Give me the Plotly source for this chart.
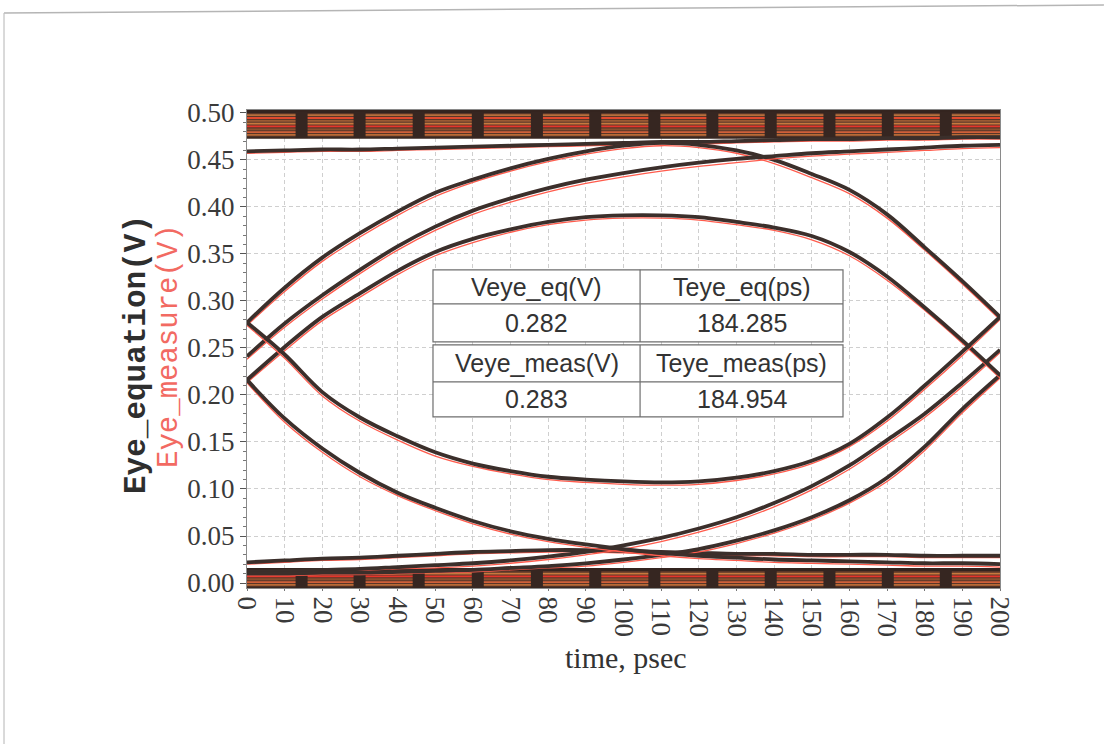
import plotly.graph_objects as go

# ---- sample times (ps) ----
time_ps = [0, 10, 20, 30, 40, 50, 60, 70, 80, 90, 100,
           110, 120, 130, 140, 150, 160, 170, 180, 190, 200]

# ---- eye traces: equation model (V) ----
eq_outer_upper = [0.277, 0.314, 0.346, 0.372, 0.395, 0.415, 0.429, 0.441, 0.451, 0.459, 0.465,
                  0.468, 0.466, 0.460, 0.450, 0.435, 0.418, 0.392, 0.357, 0.321, 0.283]
eq_inner_upper = [0.216, 0.251, 0.283, 0.308, 0.332, 0.352, 0.366, 0.376, 0.384, 0.389, 0.391,
                  0.391, 0.389, 0.384, 0.378, 0.369, 0.352, 0.326, 0.293, 0.258, 0.221]
eq_rise_high = [0.241, 0.276, 0.306, 0.333, 0.358, 0.379, 0.396, 0.409, 0.420, 0.429, 0.436,
                0.442, 0.447, 0.451, 0.454, 0.457, 0.459, 0.461, 0.463, 0.465, 0.466]
eq_flat_high = [0.459, 0.460, 0.461, 0.461, 0.462, 0.463, 0.464, 0.465, 0.466, 0.467, 0.468,
                0.469, 0.469, 0.470, 0.471, 0.472, 0.472, 0.473, 0.473, 0.474, 0.474]
eq_inner_lower = [0.277, 0.243, 0.203, 0.176, 0.156, 0.139, 0.127, 0.119, 0.113, 0.110, 0.108,
                  0.107, 0.108, 0.112, 0.119, 0.130, 0.148, 0.176, 0.210, 0.246, 0.283]
eq_outer_lower = [0.216, 0.175, 0.143, 0.117, 0.096, 0.080, 0.066, 0.055, 0.047, 0.041, 0.036,
                  0.032, 0.029, 0.027, 0.025, 0.024, 0.023, 0.022, 0.021, 0.021, 0.020]
eq_flat_low = [0.022, 0.024, 0.026, 0.027, 0.029, 0.031, 0.033, 0.034, 0.035, 0.035, 0.034,
               0.033, 0.032, 0.031, 0.031, 0.030, 0.030, 0.030, 0.029, 0.029, 0.029]
eq_rise_mid = [0.012, 0.013, 0.014, 0.015, 0.017, 0.019, 0.021, 0.024, 0.028, 0.033, 0.040,
               0.048, 0.058, 0.070, 0.085, 0.103, 0.125, 0.152, 0.180, 0.213, 0.248]
eq_rise_low = [0.010, 0.010, 0.011, 0.011, 0.012, 0.013, 0.014, 0.016, 0.018, 0.021, 0.025,
               0.030, 0.036, 0.045, 0.056, 0.070, 0.088, 0.112, 0.145, 0.185, 0.221]

# ---- eye traces: measured waveform (V) ----
meas_outer_upper = [0.274, 0.310, 0.342, 0.368, 0.391, 0.411, 0.426, 0.438, 0.448, 0.456, 0.462,
                    0.465, 0.463, 0.457, 0.446, 0.431, 0.414, 0.388, 0.354, 0.318, 0.280]
meas_inner_upper = [0.213, 0.247, 0.279, 0.304, 0.328, 0.348, 0.362, 0.373, 0.381, 0.386, 0.388,
                    0.388, 0.386, 0.381, 0.375, 0.365, 0.348, 0.322, 0.290, 0.255, 0.218]
meas_rise_high = [0.238, 0.272, 0.302, 0.329, 0.354, 0.375, 0.392, 0.405, 0.416, 0.425, 0.432,
                  0.438, 0.443, 0.447, 0.451, 0.454, 0.456, 0.458, 0.460, 0.462, 0.463]
meas_flat_high = [0.457, 0.458, 0.459, 0.459, 0.460, 0.461, 0.462, 0.463, 0.464, 0.465, 0.466,
                  0.467, 0.467, 0.468, 0.469, 0.470, 0.470, 0.471, 0.471, 0.472, 0.472]
meas_inner_lower = [0.274, 0.239, 0.199, 0.172, 0.152, 0.135, 0.124, 0.116, 0.110, 0.107, 0.105,
                    0.104, 0.105, 0.109, 0.116, 0.127, 0.145, 0.172, 0.206, 0.242, 0.280]
meas_outer_lower = [0.213, 0.171, 0.139, 0.113, 0.093, 0.077, 0.063, 0.052, 0.044, 0.038, 0.033,
                    0.029, 0.026, 0.024, 0.022, 0.021, 0.020, 0.019, 0.018, 0.018, 0.017]
meas_flat_low = [0.020, 0.022, 0.024, 0.025, 0.027, 0.029, 0.031, 0.032, 0.033, 0.033, 0.032,
                 0.031, 0.030, 0.029, 0.029, 0.028, 0.028, 0.028, 0.027, 0.027, 0.027]
meas_rise_mid = [0.010, 0.011, 0.012, 0.013, 0.015, 0.016, 0.018, 0.021, 0.025, 0.030, 0.036,
                 0.044, 0.054, 0.066, 0.081, 0.099, 0.121, 0.148, 0.176, 0.209, 0.245]
meas_rise_low = [0.008, 0.008, 0.009, 0.009, 0.010, 0.011, 0.012, 0.014, 0.016, 0.018, 0.022,
                 0.027, 0.033, 0.042, 0.053, 0.067, 0.085, 0.108, 0.141, 0.181, 0.218]

# ---- steady-state "1" and "0" bundles (V) ----
band_span = [0, 200]
high_band_edges = [0.4735, 0.5015]
low_band_edges = [-0.005, 0.0145]
high_band_levels = [0.4765, 0.4795, 0.4825, 0.4855, 0.4885, 0.4915, 0.4945, 0.4975]
low_band_levels = [-0.002, 0.001, 0.004, 0.007, 0.010]
bundle_transition_ps = [14.5, 29.9, 45.6, 61.3, 77.0, 92.5, 108.2, 123.6, 139.1, 154.7, 170.2, 185.6]

# ---- eye measurement summary ----
summary_header_eq = ["Veye_eq(V)", "Teye_eq(ps)"]
summary_value_eq = ["0.282", "184.285"]
summary_header_meas = ["Veye_meas(V)", "Teye_meas(ps)"]
summary_value_meas = ["0.283", "184.954"]

x_ticks = list(range(0, 201, 10))
y_ticks = [0.00, 0.05, 0.10, 0.15, 0.20, 0.25, 0.30, 0.35, 0.40, 0.45, 0.50]

EQ_COLOR = "#3b2f2b"
MEAS_COLOR = "#ff5c4d"
STRIPE_COLORS = ["#b86a36", "#d0603a", "#8a5030", "#e5352b", "#c8783e", "#9a5a34", "#e04a2e", "#b9703c"]

fig = go.Figure()

# bundles: dark body, coloured streaks, dark transition blocks
for edges, levels in ((high_band_edges, high_band_levels), (low_band_edges, low_band_levels)):
    fig.add_trace(go.Scatter(x=band_span, y=[edges[0]] * 2, mode="lines",
                             line=dict(color="#3a2822", width=2), hoverinfo="skip", showlegend=False))
    fig.add_trace(go.Scatter(x=band_span, y=[edges[1]] * 2, mode="lines", fill="tonexty",
                             fillcolor="#5a3628", line=dict(color="#33241f", width=3),
                             hoverinfo="skip", showlegend=False))
    for i, lvl in enumerate(levels):
        fig.add_trace(go.Scatter(x=band_span, y=[lvl] * 2, mode="lines",
                                 line=dict(color=STRIPE_COLORS[i % len(STRIPE_COLORS)], width=1.8),
                                 hoverinfo="skip", showlegend=False))
    blk_x, blk_y = [], []
    for t in bundle_transition_ps:
        blk_x += [t, t, None]
        blk_y += [edges[0], edges[1], None]
    fig.add_trace(go.Scatter(x=blk_x, y=blk_y, mode="lines", line=dict(color="#362621", width=12),
                             hoverinfo="skip", showlegend=False))

pairs = [
    (meas_flat_high, eq_flat_high),
    (meas_flat_low, eq_flat_low),
    (meas_rise_mid, eq_rise_mid),
    (meas_rise_low, eq_rise_low),
    (meas_outer_upper, eq_outer_upper),
    (meas_inner_upper, eq_inner_upper),
    (meas_rise_high, eq_rise_high),
    (meas_inner_lower, eq_inner_lower),
    (meas_outer_lower, eq_outer_lower),
]
for meas, eq in pairs:
    fig.add_trace(go.Scatter(x=time_ps, y=meas, mode="lines", line=dict(color=MEAS_COLOR, width=1.3, shape="spline"),
                             showlegend=False, name="Eye_measure"))
    fig.add_trace(go.Scatter(x=time_ps, y=eq, mode="lines", line=dict(color=EQ_COLOR, width=3.8, shape="spline"),
                             showlegend=False, name="Eye_equation"))

# summary tables (two stacked 2x2 tables)
tbl_x = [49.4, 104.4, 158.3]
tbl_rows = [(0.333, 0.2968, 0.2564, summary_header_eq, summary_value_eq),
            (0.2532, 0.2138, 0.1766, summary_header_meas, summary_value_meas)]
cell_font = dict(family="Liberation Sans, Arial, sans-serif", size=25, color="#333333")
for top, mid, bot, hdr, val in tbl_rows:
    fig.add_shape(type="rect", x0=tbl_x[0], x1=tbl_x[2], y0=bot, y1=top, xref="x", yref="y",
                  line=dict(color="#6e6e6e", width=1.2), fillcolor="white", layer="above")
    fig.add_shape(type="line", x0=tbl_x[0], x1=tbl_x[2], y0=mid, y1=mid, xref="x", yref="y",
                  line=dict(color="#6e6e6e", width=1.2), layer="above")
    fig.add_shape(type="line", x0=tbl_x[1], x1=tbl_x[1], y0=bot, y1=top, xref="x", yref="y",
                  line=dict(color="#6e6e6e", width=1.2), layer="above")
    for c in range(2):
        xc = (tbl_x[c] + tbl_x[c + 1]) / 2
        fig.add_annotation(x=xc, y=(top + mid) / 2, text=hdr[c], showarrow=False, font=cell_font,
                           xref="x", yref="y", xanchor="center", yanchor="middle")
        fig.add_annotation(x=xc, y=(mid + bot) / 2, text=val[c], showarrow=False, font=cell_font,
                           xref="x", yref="y", xanchor="center", yanchor="middle")

# axis titles
fig.add_annotation(x=-0.1474, y=0.4874, xref="paper", yref="paper", text="<b>Eye_equation(V)</b>",
                   textangle=-90, showarrow=False, xanchor="center", yanchor="middle",
                   font=dict(family="Liberation Mono, Courier New, monospace", size=31, color="#2e2e2e"))
fig.add_annotation(x=-0.1023, y=0.5063, xref="paper", yref="paper", text="Eye_measure(V)",
                   textangle=-90, showarrow=False, xanchor="center", yanchor="middle",
                   font=dict(family="Liberation Mono, Courier New, monospace", size=29, color="#f26a62"))
fig.add_annotation(x=0.503, y=-0.1444, xref="paper", yref="paper", text="time, psec", showarrow=False,
                   xanchor="center", yanchor="middle",
                   font=dict(family="Liberation Serif, Times New Roman, serif", size=30, color="#333333"))

# sheet edges
fig.add_shape(type="line", xref="paper", yref="paper", x0=-0.3227, y0=1.2029, x1=1.138, y1=1.2197,
              line=dict(color="#b5b5b5", width=1.5))
fig.add_shape(type="line", xref="paper", yref="paper", x0=-0.3227, y0=1.2029, x1=-0.3227, y1=-0.33,
              line=dict(color="#c0c0c0", width=1.2))

tick_font = dict(family="Liberation Serif, Times New Roman, serif", size=27, color="#3a3a3a")
grid_style = dict(showgrid=True, gridcolor="#cfcfcf", gridwidth=1, griddash="4px,3px")

fig.update_xaxes(range=[0, 200], tickvals=x_ticks, ticktext=[str(v) for v in x_ticks], tickangle=90,
                 ticks="outside", ticklen=2, tickcolor="#777777", tickfont=tick_font,
                 showline=True, linecolor="#8a8a8a", linewidth=1, mirror=True, zeroline=False, **grid_style)
fig.update_yaxes(range=[-0.0053, 0.503], tickvals=y_ticks, ticktext=[f"{v:.2f}" for v in y_ticks],
                 ticks="outside", ticklen=6, tickcolor="#555555", tickfont=tick_font,
                 minor=dict(dtick=0.01, ticklen=3, tickcolor="#777777", ticks="outside", showgrid=False),
                 showline=True, linecolor="#8a8a8a", linewidth=1, mirror=True, zeroline=False, **grid_style)

fig.update_layout(width=1104, height=744, margin=dict(l=247, r=104, t=110, b=156),
                  paper_bgcolor="white", plot_bgcolor="white", showlegend=False)

fig.write_html("out.html")
